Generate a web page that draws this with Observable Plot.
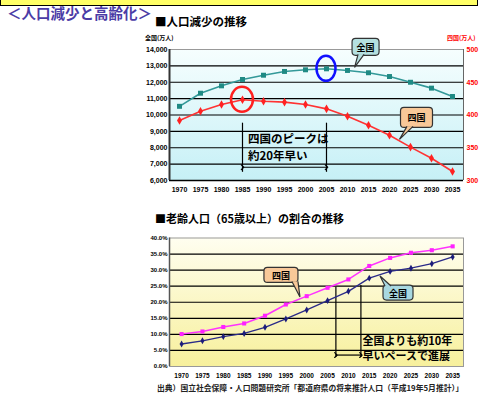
<!DOCTYPE html>
<html>
<head>
<meta charset="utf-8">
<script src="https://cdn.jsdelivr.net/npm/d3@7"></script>
<script src="https://cdn.jsdelivr.net/npm/@observablehq/plot@0.6"></script>
<style>
  body { margin: 0; background: #fff; }
  #page { position: relative; width: 481px; height: 394px; overflow: hidden; font-family: "Noto Sans CJK JP", sans-serif; }
  #page > * { position: absolute; }
  .topbar { left: 0; top: -4px; width: 476px; height: 8px; background: #ffff66; border: 1px solid #000; }
  .title { left: 7px; top: 2px; font-size: 14.5px; font-weight: bold; color: #4b3ca6; white-space: nowrap; }
  .sub { font-size: 11.5px; font-weight: bold; color: #000; white-space: nowrap; }
  .unit { font-size: 6px; font-weight: bold; white-space: nowrap; }
  .source { left: 157px; top: 382px; font-size: 7.8px; font-weight: bold; color: #222; white-space: nowrap; }
</style>
</head>
<body>
<div id="page">
  <div class="topbar"></div>
  <div id="chart1"></div>
  <div id="chart1r"></div>
  <div id="chart2"></div>
  <div class="title">＜人口減少と高齢化＞</div>
  <div class="sub" style="left:155px;top:13px;">■人口減少の推移</div>
  <div class="unit" style="left:145px;top:33px;">全国(万人)</div>
  <div class="unit" style="left:447px;top:33px;color:#ff0000;">四国(万人)</div>
  <div class="sub" style="left:155px;top:210px;font-size:11px;">■老齢人口（65歳以上）の割合の推移</div>
  <div class="source">出典）国立社会保障・人口問題研究所「都道府県の将来推計人口（平成19年5月推計）」</div>
</div>
<script>
// Census / projection years
const years = [1970, 1975, 1980, 1985, 1990, 1995, 2000, 2005, 2010, 2015, 2020, 2025, 2030, 2035];

// Population (10,000 persons)
const nationalPop = [10530, 11330, 11780, 12170, 12430, 12660, 12760, 12820, 12720, 12580, 12350, 12000, 11640, 11130];
const shikokuPop = [391.6, 405.8, 416.0, 423.2, 421.0, 419.6, 416.0, 409.4, 398.0, 384.4, 369.0, 351.0, 334.0, 313.8];

// Share of population aged 65+ (%)
const nationalAged = [7.0, 8.0, 9.3, 10.3, 12.2, 14.8, 17.6, 20.5, 23.4, 27.5, 29.6, 30.6, 32.0, 34.1];
const shikokuAged = [10.1, 10.9, 12.3, 13.4, 15.8, 19.3, 21.9, 24.5, 27.1, 31.3, 33.8, 35.4, 36.2, 37.4];

// Axis ticks
const popTicks = [6000, 7000, 8000, 9000, 10000, 11000, 12000, 13000, 14000];
const shikokuTicks = [300, 350, 400, 450, 500];
const agedTicks = [0, 5, 10, 15, 20, 25, 30, 35, 40];

// Annotation years
const peakYears = [1985, 2005];     // Shikoku peak vs. national peak
const agedGapYears = [2007, 2013];  // same ageing level reached
const peakNote = ["四国のピークは", "約20年早い"];
const agedNote = ["全国よりも約10年", "早いペースで進展"];

const popRows = years.map((year, i) => ({year, national: nationalPop[i], shikoku: shikokuPop[i]}));
const agedRows = years.map((year, i) => ({year, national: nationalAged[i], shikoku: shikokuAged[i]}));

const tickStyle = {fontFamily: "'Liberation Sans', Arial, sans-serif", fontSize: "7px", fontWeight: "bold", background: "transparent", overflow: "visible"};
const jp = "'Noto Sans CJK JP', sans-serif";

// Plot-area background with a vertical gradient
function gradientBox(id, top, bottom) {
  return (index, scales, values, dims) => {
    const g = d3.create("svg:g");
    const grad = g.append("defs").append("linearGradient")
      .attr("id", id).attr("x1", 0).attr("y1", 0).attr("x2", 0).attr("y2", 1);
    grad.append("stop").attr("offset", "0%").attr("stop-color", top);
    grad.append("stop").attr("offset", "100%").attr("stop-color", bottom);
    g.append("rect")
      .attr("x", dims.marginLeft).attr("y", dims.marginTop)
      .attr("width", dims.width - dims.marginLeft - dims.marginRight)
      .attr("height", dims.height - dims.marginTop - dims.marginBottom)
      .attr("fill", `url(#${id})`);
    return g.node();
  };
}

// Ellipse highlighting a data point
function ring(c) {
  return (index, {x, y}) => d3.create("svg:ellipse")
    .attr("cx", x(c.x)).attr("cy", y(c.y)).attr("rx", c.rx).attr("ry", c.ry)
    .attr("fill", "none").attr("stroke", c.stroke).attr("stroke-width", 2.5).node();
}

// Speech-bubble label pointing at a spot on a series
function callout(c) {
  return (index, {x, y}) => {
    const tx = x(c.x), ty = y(c.y);
    const cx = tx + c.dx, cy = ty + c.dy;
    const edge = c.dy < 0 ? cy + c.h / 2 : cy - c.h / 2;
    const inset = c.dy < 0 ? -1 : 1;
    const bx = cx + c.bx;
    const g = d3.create("svg:g");
    g.append("rect")
      .attr("x", cx - c.w / 2).attr("y", cy - c.h / 2).attr("width", c.w).attr("height", c.h)
      .attr("rx", 3.5).attr("fill", c.fill).attr("stroke", "#333").attr("stroke-width", 1.2);
    g.append("path")
      .attr("d", `M${bx - 3},${edge + inset}L${tx},${ty}L${bx + 3},${edge + inset}`)
      .attr("fill", c.fill).attr("stroke", "#333").attr("stroke-width", 1.2);
    g.append("text")
      .attr("x", cx).attr("y", cy + 0.5).attr("text-anchor", "middle").attr("dominant-baseline", "central")
      .attr("font-family", jp).attr("font-size", 9).attr("font-weight", "bold").attr("fill", "#000")
      .text(c.label);
    return g.node();
  };
}

const xDomain1 = [1967.62, 2037.62];
const xDomain2 = [1967.1, 2037.6];

// Population chart, national series on the left axis
const popBase = Plot.plot({
  width: 481, height: 200,
  marginLeft: 169, marginRight: 18, marginTop: 49, marginBottom: 20,
  style: tickStyle,
  x: {domain: xDomain1},
  y: {domain: [6000, 14000]},
  marks: [
    gradientBox("bgPop", "#f6fefe", "#c6f0f6"),
    Plot.gridY(popTicks.slice(1, -1), {stroke: "#000", strokeOpacity: 1, strokeWidth: 1.2}),
    Plot.ruleY([14000], {stroke: "#999"}),
    Plot.ruleY([6000], {stroke: "#000", strokeWidth: 1.5}),
    Plot.ruleX([xDomain1[0]], {stroke: "#333", strokeWidth: 2}),
    Plot.ruleX([xDomain1[1]], {stroke: "#666"}),
    Plot.axisY(popTicks, {tickSize: 0, tickPadding: 2, tickFormat: d3.format(","), label: null}),
    Plot.axisX(years, {tickSize: 0, tickPadding: 7, tickFormat: d => String(d), label: null}),
    Plot.ruleX(peakYears, {y1: 6500, y2: 9500, stroke: "#000", strokeWidth: 1.2}),
    Plot.link([peakYears], {x1: d => d[0], x2: d => d[1], y1: 6810, y2: 6810, stroke: "#000", strokeWidth: 1.2, markerStart: "arrow", markerEnd: "arrow"}),
    Plot.text(peakNote, {x: 1986.3, y: (d, i) => (i === 0 ? 8500 : 7470), text: d => d, textAnchor: "start", fontFamily: jp, fontSize: 11.5, fontWeight: "bold", fill: "#000"}),
    Plot.line(popRows, {x: "year", y: "national", stroke: "#339999", strokeWidth: 1.6}),
    Plot.dot(popRows, {x: "year", y: "national", symbol: "square", r: 2.8, fill: "#1f8a84", stroke: "none"}),
    ring({x: 2005, y: 12820, rx: 9.5, ry: 12.5, stroke: "#1010ff"}),
    callout({x: 2011.8, y: 12880, dx: 11, dy: -20.5, w: 27, h: 17, bx: -4.5, fill: "#b5e0e0", label: "全国"})
  ]
});

// Population chart, Shikoku series on the right axis
const popRight = Plot.plot({
  width: 481, height: 200,
  marginLeft: 169, marginRight: 18, marginTop: 49, marginBottom: 20,
  style: tickStyle,
  x: {domain: xDomain1, axis: null},
  y: {domain: [300, 500]},
  marks: [
    Plot.axisY(shikokuTicks, {anchor: "right", tickSize: 0, tickPadding: 3, color: "#ff0000", label: null}),
    Plot.line(popRows, {x: "year", y: "shikoku", stroke: "#ff3333", strokeWidth: 1.6}),
    Plot.dot(popRows, {x: "year", y: "shikoku", symbol: "diamond", r: 2.6, fill: "#ff2222", stroke: "none"}),
    ring({x: 1985, y: 423.2, rx: 11, ry: 12.5, stroke: "#ff2020"}),
    callout({x: 2022.5, y: 362, dx: 17, dy: -22, w: 32, h: 20, bx: -6.5, fill: "#f8c898", label: "四国"})
  ]
});

// Ageing share chart
const agedChart = Plot.plot({
  width: 481, height: 194,
  marginLeft: 169, marginRight: 18, marginTop: 37.5, marginBottom: 28,
  style: {...tickStyle, fontSize: "6px"},
  x: {domain: xDomain2},
  y: {domain: [0, 40]},
  marks: [
    gradientBox("bgAged", "#fffef0", "#f7f09c"),
    Plot.gridY(agedTicks.slice(1, -1), {stroke: "#000", strokeOpacity: 1, strokeWidth: 1.2}),
    Plot.frame({stroke: "#999"}),
    Plot.ruleX([xDomain2[0]], {stroke: "#555", strokeWidth: 1.5}),
    Plot.axisY(agedTicks, {tickSize: 0, tickPadding: 2, tickFormat: d => d.toFixed(1) + "%", label: null}),
    Plot.axisX(years, {tickSize: 0, tickPadding: 7, tickFormat: d => String(d), label: null, fontSize: 6.5}),
    Plot.ruleX(agedGapYears, {y1: 2.8, y2: (d, i) => (i === 0 ? 24.7 : 25.2), stroke: "#000", strokeWidth: 1.2}),
    Plot.link([agedGapYears], {x1: d => d[0], x2: d => d[1], y1: 3.56, y2: 3.56, stroke: "#000", strokeWidth: 1.2, markerStart: "arrow", markerEnd: "arrow"}),
    Plot.text(agedNote, {x: 2013.4, y: (d, i) => (i === 0 ? 7.9 : 3.2), text: d => d, textAnchor: "start", fontFamily: jp, fontSize: 11, fontWeight: "bold", fill: "#000"}),
    Plot.line(agedRows, {x: "year", y: "shikoku", stroke: "#ff33ff", strokeWidth: 1.5}),
    Plot.dot(agedRows, {x: "year", y: "shikoku", symbol: "square", r: 2.3, fill: "#ff22ff", stroke: "none"}),
    Plot.line(agedRows, {x: "year", y: "national", stroke: "#2a2a88", strokeWidth: 1.3}),
    Plot.dot(agedRows, {x: "year", y: "national", symbol: "diamond", r: 2.1, fill: "#1c1c7a", stroke: "none"}),
    callout({x: 1998.5, y: 21.5, dx: -19, dy: -22, w: 34, h: 15, bx: 14, fill: "#f8c898", label: "四国"}),
    callout({x: 2017.7, y: 28.0, dx: 18, dy: 16.5, w: 30, h: 15, bx: -10, fill: "#a8d8e0", label: "全国"})
  ]
});

const place = (id, node, top) => {
  const host = document.getElementById(id);
  host.style.left = "0px";
  host.style.top = top + "px";
  host.appendChild(node);
};
place("chart1", popBase, 0);
place("chart1r", popRight, 0);
place("chart2", agedChart, 200);
</script>
</body>
</html>
